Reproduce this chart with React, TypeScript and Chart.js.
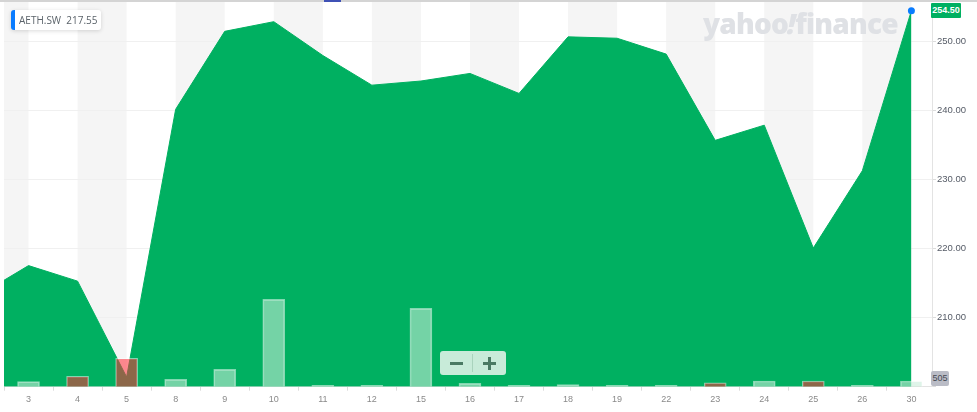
import { useEffect, useRef } from "react";
import { Chart, registerables } from "chart.js";

Chart.register(...registerables);

// first entry is the session before the visible window, only its slope shows at the left edge
const days = ["31", "3", "4", "5", "8", "9", "10", "11", "12", "15", "16", "17", "18", "19", "22", "23", "24", "25", "26", "30"];
const closes = [213.3, 217.55, 215.3, 201.4, 240.2, 251.5, 252.9, 248.0, 243.7, 244.3, 245.4, 242.5, 250.7, 250.5, 248.2, 235.7, 237.9, 220.1, 231.3, 254.5];
const volumes = [0, 443, 930, 2520, 655, 1540, 7740, 130, 130, 6950, 300, 130, 177, 130, 130, 354, 505, 505, 130, 505];
const volumeDown = [false, false, true, true, false, false, false, false, false, false, false, false, false, false, false, true, false, true, false, false];

const UP_GREEN = "#00b061";
const volumeColors = volumeDown.map((d) => (d ? "rgba(255,43,54,0.55)" : "rgba(200,236,217,0.58)"));

const bandsPlugin = {
  id: "bands",
  beforeDraw(chart: any) {
    const { ctx, chartArea, scales } = chart;
    ctx.save();
    ctx.fillStyle = "#f5f5f5";
    for (let i = 0; i < days.length; i += 2) {
      const left = Math.max(scales.x.getPixelForValue(i), chartArea.left);
      const right = scales.x.getPixelForValue(i + 1);
      // bands run up to the header line, above the plot area
      ctx.fillRect(left, 2, right - left, chartArea.bottom - 2);
    }
    ctx.restore();
  },
};

export default function App() {
  const canvasRef = useRef<HTMLCanvasElement>(null);

  useEffect(() => {
    if (!canvasRef.current) return;
    const xy = (arr: number[]) => arr.map((v, i) => ({ x: i, y: v }));

    const chart = new Chart(canvasRef.current, {
      type: "bar",
      plugins: [bandsPlugin],
      data: {
        datasets: [
          {
            type: "bar",
            data: xy(volumes),
            yAxisID: "vol",
            backgroundColor: volumeColors,
            borderColor: "rgba(255,255,255,0.5)",
            borderWidth: 1,
            barThickness: 22,
            order: 1,
          },
          {
            type: "line",
            data: xy(closes),
            yAxisID: "price",
            borderColor: UP_GREEN,
            borderWidth: 1,
            backgroundColor: UP_GREEN,
            fill: "start",
            tension: 0,
            pointRadius: closes.map((_, i) => (i === closes.length - 1 ? 3.5 : 0)),
            pointBackgroundColor: "#0a7cff",
            pointBorderWidth: 0,
            clip: { left: 0, top: 8, right: 0, bottom: 0 },
            order: 2,
          },
        ] as any,
      },
      options: {
        responsive: false,
        animation: false,
        events: [],
        layout: { padding: { left: 1, top: 3, right: 0, bottom: 0 } },
        plugins: { legend: { display: false }, tooltip: { enabled: false } },
        scales: {
          x: {
            type: "linear",
            bounds: "data",
            offset: false,
            min: 0.5,
            max: 19.42,
            grid: { drawOnChartArea: false, tickLength: 4, tickColor: "#dcdcdc" },
            border: { color: "#e3e3e3" },
            afterBuildTicks(scale: any) {
              scale.ticks = days.slice(1).map((_, i) => ({ value: i + 1 }));
            },
            afterFit(scale: any) {
              scale.height = 25.3;
            },
            ticks: {
              maxRotation: 0,
              autoSkip: false,
              color: "#8a8a8a",
              font: { family: "Liberation Sans", size: 9 },
              padding: 3,
              callback: (v: any) => days[v] ?? "",
            },
          },
          price: {
            position: "right",
            bounds: "data",
            min: 200,
            max: 255.07,
            grid: { color: "#f0f0f0", tickLength: 4, tickColor: "#dcdcdc" },
            border: { color: "#e3e3e3" },
            afterFit(scale: any) {
              scale.width = 45;
            },
            ticks: {
              stepSize: 10,
              includeBounds: false,
              color: "#555b66",
              font: { family: "Liberation Sans", size: 9.5 },
              padding: 1,
              callback: (v: any) => (v === 200 ? "" : Number(v).toFixed(2)),
            },
          },
          vol: {
            display: false,
            min: 0,
            max: 33700,
          },
        },
      },
    });

    return () => {
      chart.destroy();
    };
  }, []);

  const label: React.CSSProperties = { position: "absolute", fontFamily: "Liberation Sans", whiteSpace: "nowrap" };

  return (
    <div style={{ position: "fixed", left: 0, top: 0, width: 977, height: 412, background: "#fff", overflow: "hidden" }}>
      <canvas ref={canvasRef} width={977} height={412} style={{ display: "block" }} />
      <div style={{ position: "absolute", left: 0, top: 0, width: 977, height: 2, background: "#d4d4d4" }} />
      <div style={{ position: "absolute", left: 324, top: 0, width: 17, height: 2, background: "#3f51b5" }} />
      <div style={{ ...label, left: 703, top: 4, fontFamily: "Open Sans", fontWeight: 800, fontSize: 28, letterSpacing: -0.8, color: "#dfe1e5" }}>
        yahoo<span style={{ display: "inline-block", transform: "skewX(-14deg)" }}>!</span>finance
      </div>
      <div
        style={{
          ...label,
          left: 11,
          top: 10,
          width: 90,
          height: 20,
          boxSizing: "border-box",
          background: "#fff",
          borderLeft: "4px solid #0a7cff",
          borderRadius: 3,
          boxShadow: "0 1px 4px rgba(0,0,0,0.15)",
          fontFamily: "Open Sans",
          fontSize: 10,
          lineHeight: "20px",
          paddingLeft: 4,
          color: "#5b636a",
        }}
      >
        AETH.SW&nbsp; 217.55
      </div>
      <div style={{ ...label, left: 931, top: 3, width: 30, height: 15, background: UP_GREEN, borderRadius: 1, color: "#fff", fontSize: 9, fontWeight: 700, lineHeight: "15px", textAlign: "center" }}>
        254.50
      </div>
      <div style={{ ...label, left: 931, top: 371, width: 18, height: 15, background: "#babcc6", borderRadius: 2, color: "#454a52", fontSize: 9, lineHeight: "15px", textAlign: "center" }}>
        505
      </div>
      <div style={{ position: "absolute", left: 440, top: 351, width: 66, height: 24, background: "#c8ebd9", borderRadius: 3 }}>
        <div style={{ position: "absolute", left: 32, top: 3, width: 1, height: 18, background: "#a9d3bd" }} />
        <div style={{ position: "absolute", left: 10, top: 10.5, width: 13, height: 3, background: "#4a7a63" }} />
        <div style={{ position: "absolute", left: 43, top: 10.5, width: 13, height: 3, background: "#4a7a63" }} />
        <div style={{ position: "absolute", left: 48, top: 5.5, width: 3, height: 13, background: "#4a7a63" }} />
      </div>
    </div>
  );
}
